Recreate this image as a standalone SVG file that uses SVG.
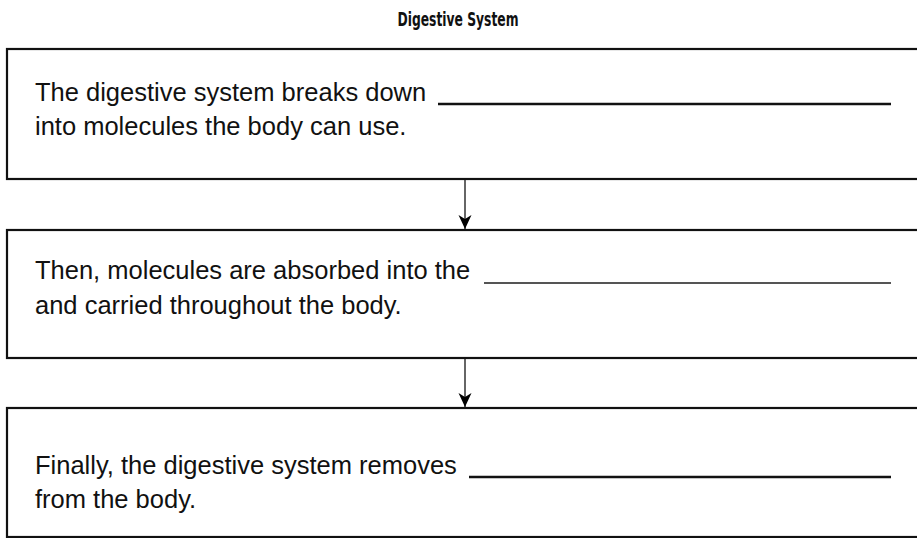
<svg xmlns="http://www.w3.org/2000/svg" width="917" height="538" viewBox="0 0 917 538">
<style>
.box{fill:#fff;stroke:#111;stroke-width:2.2}
.t{font-family:"Liberation Sans",Arial,sans-serif;font-size:25.5px;fill:#111}
.title{font-family:"Liberation Sans Narrow","DejaVu Sans Condensed",sans-serif;font-weight:bold;font-size:19px;fill:#111}
.blank{stroke:#111;stroke-width:2.6}
.blank2{stroke:#555;stroke-width:2}
.conn{stroke:#333;stroke-width:1.5;fill:none}
</style>
<defs>
<marker id="ah" markerWidth="16" markerHeight="14" viewBox="-15 -7 16 14" refX="0" refY="0" orient="auto" markerUnits="userSpaceOnUse">
<path d="M0,0 L-14,-6.5 L-10,0 L-14,6.5 Z" fill="#000"/>
</marker>
</defs>
<rect width="917" height="538" fill="#fff"/>
<text class="title" x="458" y="26" text-anchor="middle" textLength="121" lengthAdjust="spacingAndGlyphs">Digestive System</text>
<g id="connectors">
<line class="conn" x1="465" y1="180" x2="465" y2="229" marker-end="url(#ah)"/>
<line class="conn" x1="465" y1="359" x2="465" y2="407" marker-end="url(#ah)"/>
</g>
<g id="step1">
<rect class="box" x="7" y="49" width="920" height="130"/>
<text class="t" x="35" y="101">The digestive system breaks down</text>
<line class="blank" x1="438" y1="104" x2="891" y2="104"/>
<text class="t" x="35" y="135">into molecules the body can use.</text>
</g>
<g id="step2">
<rect class="box" x="7" y="230" width="920" height="128"/>
<text class="t" x="35" y="279">Then, molecules are absorbed into the</text>
<line class="blank2" x1="484" y1="283" x2="891" y2="283"/>
<text class="t" x="35" y="314">and carried throughout the body.</text>
</g>
<g id="step3">
<rect class="box" x="7" y="408" width="920" height="129"/>
<text class="t" x="35" y="474">Finally, the digestive system removes</text>
<line class="blank" x1="469" y1="477" x2="891" y2="477"/>
<text class="t" x="35" y="508">from the body.</text>
</g>
</svg>
